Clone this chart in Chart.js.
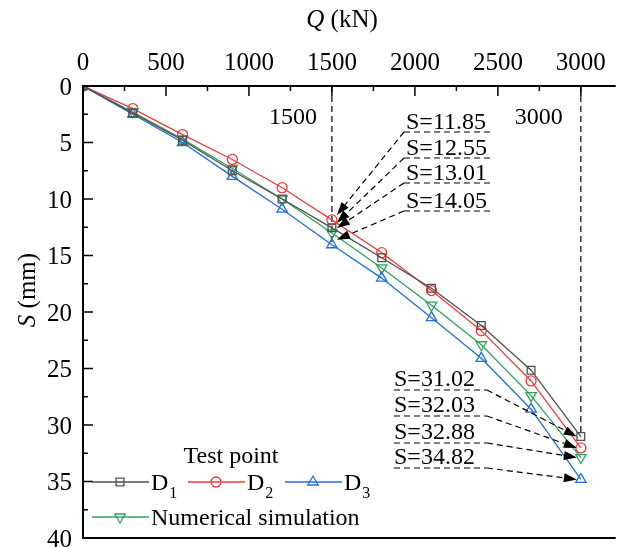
<!DOCTYPE html>
<html>
<head>
<meta charset="utf-8">
<script src="https://cdn.jsdelivr.net/npm/chart.js@4.4.1/dist/chart.umd.min.js"></script>
<style>
body { margin: 0; background: #fff; }
#wrap { width: 623px; height: 547px; }
</style>
</head>
<body>
<div id="wrap"><canvas id="canvas" width="623" height="547"></canvas></div>
<script>
// load steps (kN)
var loads = [0, 300, 600, 900, 1200, 1500, 1800, 2100, 2400, 2700, 3000];
// settlement (mm)
var d1 = [0, 2.4, 4.8, 7.5, 10.0, 12.55, 15.2, 17.9, 21.2, 25.15, 31.02];
var d2 = [0, 2.0, 4.3, 6.5, 9.0, 11.85, 14.75, 18.1, 21.65, 26.1, 32.03];
var d3 = [0, 2.5, 5.0, 8.0, 10.9, 14.05, 17.0, 20.5, 24.1, 28.6, 34.82];
var numSim = [0, 2.3, 4.7, 7.3, 10.0, 13.01, 16.1, 19.4, 22.9, 27.4, 32.88];

// tick labels
var xTicks = [0, 500, 1000, 1500, 2000, 2500, 3000];
var yTicks = [0, 5, 10, 15, 20, 25, 30, 35, 40];

// annotated values
var markLoads = [1500, 3000];
var marks1500 = [11.85, 12.55, 13.01, 14.05];
var marks3000 = [31.02, 32.03, 32.88, 34.82];

var serif = "'Liberation Serif', 'Times New Roman', serif";
var cBlack = '#505050', cRed = '#f03c3c', cBlue = '#1f6fe0', cGreen = '#2ea35c';

function pts(ys) {
    return loads.map(function(q, i){ return {x: q, y: ys[i]}; });
}

function makeSet(label, ys, color, style, rot, r) {
    return {
        label: label,
        data: pts(ys),
        borderColor: color,
        backgroundColor: 'rgba(0,0,0,0)',
        borderWidth: 1.3,
        pointStyle: style,
        rotation: rot,
        pointRadius: r,
        pointBorderWidth: 1.3,
        pointBackgroundColor: 'rgba(0,0,0,0)',
        pointBorderColor: color,
        fill: false,
        tension: 0
    };
}

function dashedArrow(ctx, x0, y0, x1, y1) {
    var ang = Math.atan2(y1 - y0, x1 - x0);
    var len = 13, half = 4.5;
    var bx = x1 - len * Math.cos(ang), by = y1 - len * Math.sin(ang);
    ctx.save();
    ctx.strokeStyle = '#000';
    ctx.lineWidth = 1.2;
    ctx.setLineDash([6, 4]);
    ctx.beginPath();
    ctx.moveTo(x0, y0);
    ctx.lineTo(bx, by);
    ctx.stroke();
    ctx.setLineDash([]);
    ctx.fillStyle = '#000';
    ctx.beginPath();
    ctx.moveTo(x1, y1);
    ctx.lineTo(bx + half * Math.sin(ang), by - half * Math.cos(ang));
    ctx.lineTo(bx - half * Math.sin(ang), by + half * Math.cos(ang));
    ctx.closePath();
    ctx.fill();
    ctx.restore();
}

function dashedLine(ctx, x0, y0, x1, y1) {
    ctx.save();
    ctx.strokeStyle = '#000';
    ctx.lineWidth = 1.2;
    ctx.setLineDash([6, 4]);
    ctx.beginPath();
    ctx.moveTo(x0, y0);
    ctx.lineTo(x1, y1);
    ctx.stroke();
    ctx.restore();
}

var decor = {
    id: 'decor',
    beforeDatasetsDraw: function(chart) {
        var ctx = chart.ctx, xs = chart.scales.x, ys = chart.scales.y;
        // vertical guide lines
        dashedLine(ctx, xs.getPixelForValue(1500), ys.getPixelForValue(0), xs.getPixelForValue(1500), ys.getPixelForValue(marks1500[3]));
        dashedLine(ctx, xs.getPixelForValue(3000), ys.getPixelForValue(0), xs.getPixelForValue(3000), ys.getPixelForValue(marks3000[0]));
    },
    afterDraw: function(chart) {
        var ctx = chart.ctx, xs = chart.scales.x, ys = chart.scales.y, a = chart.chartArea;
        ctx.save();
        // frame: top, left, bottom
        ctx.strokeStyle = '#000';
        ctx.lineWidth = 2;
        ctx.beginPath();
        ctx.moveTo(a.right, a.top); ctx.lineTo(a.left, a.top);
        ctx.lineTo(a.left, a.bottom); ctx.lineTo(a.right, a.bottom);
        ctx.stroke();
        // inward tick marks
        ctx.lineWidth = 1.5;
        for (var q = 0; q <= 3000; q += 250) {
            var px = xs.getPixelForValue(q);
            var tl = q % 500 === 0 ? 10 : 5;
            ctx.beginPath(); ctx.moveTo(px, a.top); ctx.lineTo(px, a.top + tl); ctx.stroke();
        }
        for (var s = 0; s <= 40; s += 2.5) {
            var py = ys.getPixelForValue(s);
            var tl2 = s % 5 === 0 ? 10 : 5;
            ctx.beginPath(); ctx.moveTo(a.left, py); ctx.lineTo(a.left + tl2, py); ctx.stroke();
        }

        ctx.fillStyle = '#000';
        ctx.textBaseline = 'alphabetic';
        // tick labels
        ctx.font = '25px ' + serif;
        ctx.textAlign = 'center';
        xTicks.forEach(function(v){ ctx.fillText(String(v), xs.getPixelForValue(v), 70); });
        ctx.textAlign = 'right';
        yTicks.forEach(function(v){ ctx.fillText(String(v), 72, ys.getPixelForValue(v) + 8.5); });

        // axis titles
        ctx.textAlign = 'left';
        ctx.font = 'italic 25px ' + serif;
        var wq = ctx.measureText('Q').width;
        ctx.font = '25px ' + serif;
        var wr = ctx.measureText(' (kN)').width;
        var cx = 342 - (wq + wr) / 2;
        ctx.font = 'italic 25px ' + serif;
        ctx.fillText('Q', cx, 27);
        ctx.font = '25px ' + serif;
        ctx.fillText(' (kN)', cx + wq, 27);

        ctx.save();
        ctx.translate(35, 290);
        ctx.rotate(-Math.PI / 2);
        ctx.font = 'italic 25px ' + serif;
        var ws = ctx.measureText('S').width;
        ctx.font = '25px ' + serif;
        var wm = ctx.measureText(' (mm)').width;
        var sx = -(ws + wm) / 2;
        ctx.font = 'italic 25px ' + serif;
        ctx.fillText('S', sx, 0);
        ctx.font = '25px ' + serif;
        ctx.fillText(' (mm)', sx + ws, 0);
        ctx.restore();

        // load labels near guide lines
        ctx.font = '24px ' + serif;
        ctx.textAlign = 'center';
        ctx.fillText(String(markLoads[0]), xs.getPixelForValue(1500) - 39, 124);
        ctx.fillText(String(markLoads[1]), xs.getPixelForValue(3000) - 42, 124);

        // annotations at 1500
        ctx.textAlign = 'left';
        var ul1 = [132, 158, 183, 211];
        marks1500.forEach(function(v, i){
            ctx.fillText('S=' + v.toFixed(2), 406, ul1[i] - 3);
            dashedLine(ctx, 404, ul1[i], 492, ul1[i]);
            dashedArrow(ctx, 404, ul1[i], xs.getPixelForValue(1500) + 5, ys.getPixelForValue(v) - 5);
        });
        // annotations at 3000
        var ul2 = [390, 416, 443, 468];
        marks3000.forEach(function(v, i){
            ctx.fillText('S=' + v.toFixed(2), 394, ul2[i] - 4);
            dashedLine(ctx, 394, ul2[i], 487, ul2[i]);
            dashedArrow(ctx, 487, ul2[i], xs.getPixelForValue(3000) - 4, ys.getPixelForValue(v));
        });

        // legend
        ctx.textAlign = 'center';
        ctx.fillText('Test point', 231, 463);
        var items = [
            {ds: 0, x0: 92, y: 482, name: 'D', sub: '1'},
            {ds: 1, x0: 188, y: 482, name: 'D', sub: '2'},
            {ds: 2, x0: 285, y: 482, name: 'D', sub: '3'},
            {ds: 3, x0: 92, y: 517, name: 'Numerical simulation', sub: ''}
        ];
        items.forEach(function(it){
            var d = chart.data.datasets[it.ds];
            ctx.strokeStyle = d.borderColor;
            ctx.lineWidth = 1.3;
            ctx.beginPath(); ctx.moveTo(it.x0, it.y); ctx.lineTo(it.x0 + 57, it.y); ctx.stroke();
            ctx.fillStyle = 'rgba(0,0,0,0)';
            Chart.helpers.drawPoint(ctx, {pointStyle: d.pointStyle, rotation: d.rotation, radius: d.pointRadius, borderWidth: 1.3}, it.x0 + 28, it.y);
            ctx.fillStyle = '#000';
            ctx.textAlign = 'left';
            ctx.font = '24px ' + serif;
            var tx = it.x0 + 59;
            ctx.fillText(it.name, tx, it.y + 8);
            if (it.sub) {
                var w = ctx.measureText(it.name).width;
                ctx.font = '16px ' + serif;
                ctx.fillText(it.sub, tx + w + 1, it.y + 16);
            }
        });
        ctx.restore();
    }
};

var ctx = document.getElementById('canvas').getContext('2d');
var chart = new Chart(ctx, {
    type: 'line',
    data: {
        datasets: [
            makeSet('D1', d1, cBlack, 'rect', 0, 5.5),
            makeSet('D2', d2, cRed, 'circle', 0, 5),
            makeSet('D3', d3, cBlue, 'triangle', 0, 6),
            makeSet('Numerical simulation', numSim, cGreen, 'triangle', 180, 6)
        ]
    },
    options: {
        responsive: false,
        animation: false,
        layout: { padding: { left: 0, right: 3, top: 0, bottom: 9 } },
        plugins: {
            legend: { display: false },
            tooltip: { enabled: false }
        },
        scales: {
            x: {
                type: 'linear',
                position: 'top',
                min: 0,
                max: 3210,
                grid: { display: false },
                border: { display: false },
                ticks: { display: false },
                afterFit: function(s){ s.height = 86; }
            },
            y: {
                type: 'linear',
                reverse: true,
                min: 0,
                max: 40,
                grid: { display: false },
                border: { display: false },
                ticks: { display: false },
                afterFit: function(s){ s.width = 83; }
            }
        }
    },
    plugins: [decor]
});
</script>
</body>
</html>
